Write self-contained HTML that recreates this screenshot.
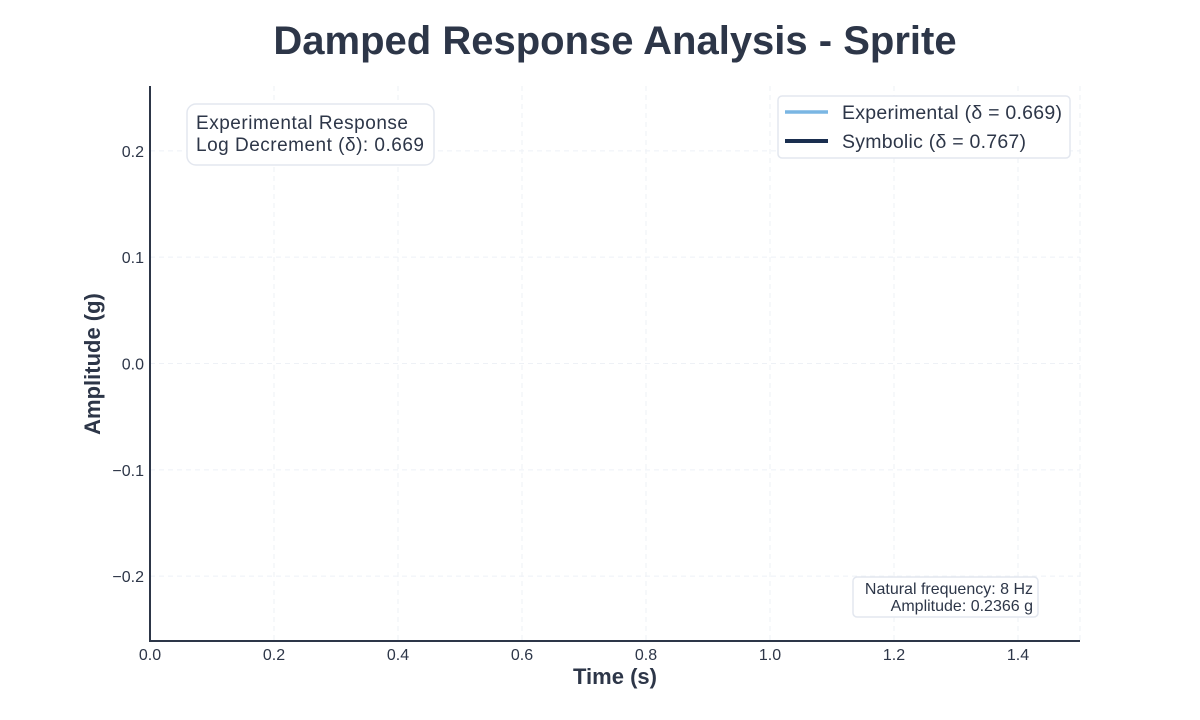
<!DOCTYPE html>
<html><head><meta charset="utf-8"><style>
body{margin:0;background:#fff;}
svg{display:block;font-family:"Liberation Sans",sans-serif;}
</style></head><body>
<svg id="chart" width="1200" height="720">
<text x="615" y="54" text-anchor="middle" font-size="40" font-weight="bold" fill="#2d3648">Damped Response Analysis - Sprite</text>
<g id="grid"></g>
<g id="series"></g>
<g id="axes"></g>
<text x="615" y="684" text-anchor="middle" font-size="22" font-weight="bold" fill="#2d3648">Time (s)</text>
<text transform="translate(100,364) rotate(-90)" text-anchor="middle" font-size="22" font-weight="bold" fill="#2d3648">Amplitude (g)</text>
<g>
<rect x="187" y="104" width="247" height="61" rx="9" fill="#fff" stroke="#e3e7ef" stroke-width="1.5"/>
<text x="196" y="129" font-size="19" fill="#2d3648" textLength="212">Experimental Response</text>
<text x="196" y="151" font-size="19" fill="#2d3648" textLength="228">Log Decrement (δ): 0.669</text>
</g>
<g>
<rect x="778" y="96" width="292" height="62" rx="4" fill="#fff" stroke="#e3e7ef" stroke-width="1.5"/>
<line x1="785" y1="112" x2="828" y2="112" stroke="#7ab6e3" stroke-width="3.5"/>
<text x="842" y="119" font-size="19.5" fill="#2d3648" textLength="220">Experimental (δ = 0.669)</text>
<line x1="785" y1="141" x2="828" y2="141" stroke="#1a2e4f" stroke-width="4"/>
<text x="842" y="148" font-size="19.5" fill="#2d3648" textLength="184">Symbolic (δ = 0.767)</text>
</g>
<g>
<rect x="853" y="577" width="185" height="40" rx="4" fill="#fff" stroke="#e3e7ef" stroke-width="1.5"/>
<text x="1033" y="594" text-anchor="end" font-size="16" fill="#2d3648">Natural frequency: 8 Hz</text>
<text x="1033" y="611" text-anchor="end" font-size="16" fill="#2d3648">Amplitude: 0.2366 g</text>
</g>
</svg>
<script>
const xTicks=[0,0.2,0.4,0.6,0.8,1.0,1.2,1.4];
const xTickLabels=["0.0","0.2","0.4","0.6","0.8","1.0","1.2","1.4"];
const yTicks=[-0.2,-0.1,0,0.1,0.2];
const yTickLabels=["\u22120.2","\u22120.1","0.0","0.1","0.2"];
const expTime=[];
const expValues=[];
const symTime=[];
const symValues=[];
const X0=150,X1=1080,Y0=641,Y1=86,xMin=0,xMax=1.5,yMin=-0.261,yMax=0.261;
const sx=v=>X0+(v-xMin)/(xMax-xMin)*(X1-X0);
const sy=v=>Y0-(v-yMin)/(yMax-yMin)*(Y0-Y1);
const NS="http://www.w3.org/2000/svg";
const grid=document.getElementById('grid'),axes=document.getElementById('axes'),series=document.getElementById('series');
function mk(t,a,p){const e=document.createElementNS(NS,t);for(const k in a)e.setAttribute(k,a[k]);p.appendChild(e);return e;}
xTicks.forEach((v,i)=>{
 const g=mk('line',{x1:sx(v),x2:sx(v),y1:Y1,y2:Y0,stroke:'#eef1f6','stroke-dasharray':'5,4','stroke-width':1},grid);
 
 
 const t=mk('text',{x:sx(v),y:Y0+19,'text-anchor':'middle','font-size':16,fill:'#2d3648'},axes);
 t.textContent=xTickLabels[i];
 
 
});
mk('line',{x1:sx(1.5),x2:sx(1.5),y1:Y1,y2:Y0,stroke:'#eef1f6','stroke-dasharray':'5,4'},grid);
yTicks.forEach((v,i)=>{
 const g=mk('line',{x1:X0,x2:X1,y1:sy(v),y2:sy(v),stroke:'#eef1f6','stroke-dasharray':'5,4','stroke-width':1},grid);
 
 
 const t=mk('text',{x:X0-6,y:sy(v)+6,'text-anchor':'end','font-size':16,fill:'#2d3648'},axes);
 t.textContent=yTickLabels[i];
 
 
});
function line(xs,ys,color,w,name){
 if(!xs.length)return;
 const p=mk('polyline',{points:xs.map((x,i)=>sx(x)+','+sy(ys[i])).join(' '),fill:'none',stroke:color,'stroke-width':w},series);
 
 
}
line(symTime,symValues,'#1a2e4f',3,'symbolic-line');
line(expTime,expValues,'#7ab6e3',2.5,'experimental-line');
const ya=mk('line',{x1:X0,x2:X0,y1:Y1,y2:Y0+1,stroke:'#2d3648','stroke-width':2},axes);


const xa=mk('line',{x1:X0-1,x2:X1,y1:Y0,y2:Y0,stroke:'#2d3648','stroke-width':2},axes);


</script>
</body></html>
